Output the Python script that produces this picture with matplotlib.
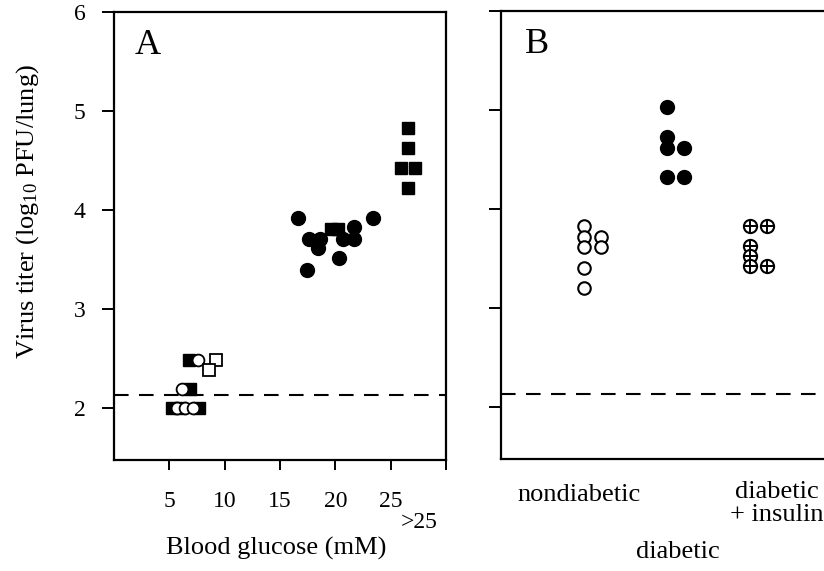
import matplotlib
matplotlib.use("Agg")
import matplotlib.pyplot as plt
import matplotlib.transforms as mtransforms

plt.rcParams['font.family'] = ['Liberation Serif', 'DejaVu Serif']
plt.rcParams['mathtext.default'] = 'regular'

# ---- panel A: virus titer vs blood glucose ----
a_open_circ_x = [5.7, 6.4, 7.1, 6.1, 7.6]
a_open_circ_y = [2.0, 2.0, 2.0, 2.2, 2.49]
a_low_sq_x = [5.2, 6.0, 7.7, 6.9, 6.8]
a_low_sq_y = [2.0, 2.0, 2.0, 2.2, 2.49]
a_open_sq_x = [9.2, 8.6]
a_open_sq_y = [2.49, 2.39]
a_circ_x = [16.6, 17.4, 17.6, 18.4, 18.6, 20.3, 20.7, 21.7, 21.7, 23.4]
a_circ_y = [3.92, 3.40, 3.71, 3.62, 3.71, 3.52, 3.71, 3.83, 3.71, 3.92]
a_mid_sq_x = [19.6, 20.2]
a_mid_sq_y = [3.81, 3.81]
a_high_sq_x = [26.6, 26.6, 25.9, 27.2, 26.6]
a_high_sq_y = [4.83, 4.63, 4.43, 4.43, 4.22]
a_xticks = [5, 10, 15, 20, 25, 30]
a_xticklabels = ['5', '10', '15', '20', '25', '']

# ---- panel B: groups ----
groups = ['nondiabetic', 'diabetic', 'diabetic\n+ insulin']
nondiab_y = [3.83, 3.72, 3.62, 3.41, 3.21, 3.72, 3.62]
nondiab_side = [-1, -1, -1, -1, -1, 1, 1]
diab_y = [5.03, 4.73, 4.62, 4.33, 4.62, 4.33]
diab_side = [-1, -1, -1, -1, 1, 1]
insulin_y = [3.83, 3.63, 3.53, 3.43, 3.83, 3.43]
insulin_side = [-1, -1, -1, -1, 1, 1]

detection_limit = 2.14
yticks = [2, 3, 4, 5, 6]

W, H = 824, 571
fig = plt.figure(figsize=(W / 100, H / 100), dpi=100)
axA = fig.add_axes([114 / W, 1 - 460 / H, (446 - 114) / W, (460 - 12) / H])
axB = fig.add_axes([501 / W, 1 - 459 / H, (845 - 501) / W, (459 - 11) / H])

for ax in (axA, axB):
    ax.set_ylim(1.48, 6)
    ax.set_yticks(yticks)
    for s in ax.spines.values():
        s.set_linewidth(1.6)
    ax.tick_params(axis='y', direction='out', length=8.5, width=1.4,
                   labelsize=17, pad=12)
    ax.tick_params(axis='x', direction='out', length=7, width=1.4,
                   labelsize=17, pad=15)
    ax.axhline(detection_limit, color='black', lw=1.5, dashes=(7, 5), zorder=1)

# panel A
axA.set_xlim(0, 30)
axA.set_xticks(a_xticks)
axA.set_xticklabels(a_xticklabels)
axA.plot(a_low_sq_x, a_low_sq_y, 's', ms=8.5, color='black', zorder=2)
axA.plot(a_open_circ_x, a_open_circ_y, 'o', ms=8.5, mfc='white', mec='black',
         mew=1.3, zorder=3)
axA.plot(a_open_sq_x, a_open_sq_y, 's', ms=8.5, mfc='white', mec='black',
         mew=1.3, zorder=3)
axA.plot(a_mid_sq_x, a_mid_sq_y, 's', ms=9, color='black', zorder=2)
axA.plot(a_circ_x, a_circ_y, 'o', ms=10, color='black', zorder=3)
axA.plot(a_high_sq_x, a_high_sq_y, 's', ms=9, color='black', zorder=3)
axA.text(0.1, 0.925, 'A', transform=axA.transAxes, fontsize=26,
         ha='center', va='center')
tA = mtransforms.blended_transform_factory(axA.transData, axA.transAxes)
axA.text(27.6, -0.14, '>25', transform=tA, fontsize=17, ha='center', va='center')
axA.text(0.49, -0.197, 'Blood glucose (mM)', transform=axA.transAxes,
         fontsize=19, ha='center', va='center')

# panel B
step = 83.0
axB.set_xlim(-(592 - 501) / step, (845 - 592) / step)
axB.set_xticks([])
axB.set_yticklabels([])
axB.spines['right'].set_visible(False)
off = 8.5 / step
axB.plot([0 + s * off for s in nondiab_side], nondiab_y, 'o', ms=9, mfc='white',
         mec='black', mew=1.5, zorder=3)
axB.plot([1 + s * off for s in diab_side], diab_y, 'o', ms=10, color='black',
         zorder=3)
ins_x = [2 + s * off for s in insulin_side]
axB.plot(ins_x, insulin_y, 'o', ms=9.5, mfc='white', mec='black', mew=1.5,
         zorder=3)
axB.plot(ins_x, insulin_y, '+', ms=9.5, color='black', mew=1.4, zorder=4)
axB.text(0.105, 0.925, 'B', transform=axB.transAxes, fontsize=26,
         ha='center', va='center')
tB = mtransforms.blended_transform_factory(axB.transData, axB.transAxes)
label_dx = [-0.16, 0.04, 0.23]
label_y = [-0.080, -0.207, -0.100]
for i, g in enumerate(groups):
    axB.text(i + label_dx[i], label_y[i], g, transform=tB, fontsize=19,
             ha='center', va='center', linespacing=1.05)

fig.text(28 / W, 1 - 212 / H, r'Virus titer (log$_{10}$ PFU/lung)',
         rotation=90, fontsize=19, ha='center', va='center')

fig.savefig('out.png', dpi=100)
